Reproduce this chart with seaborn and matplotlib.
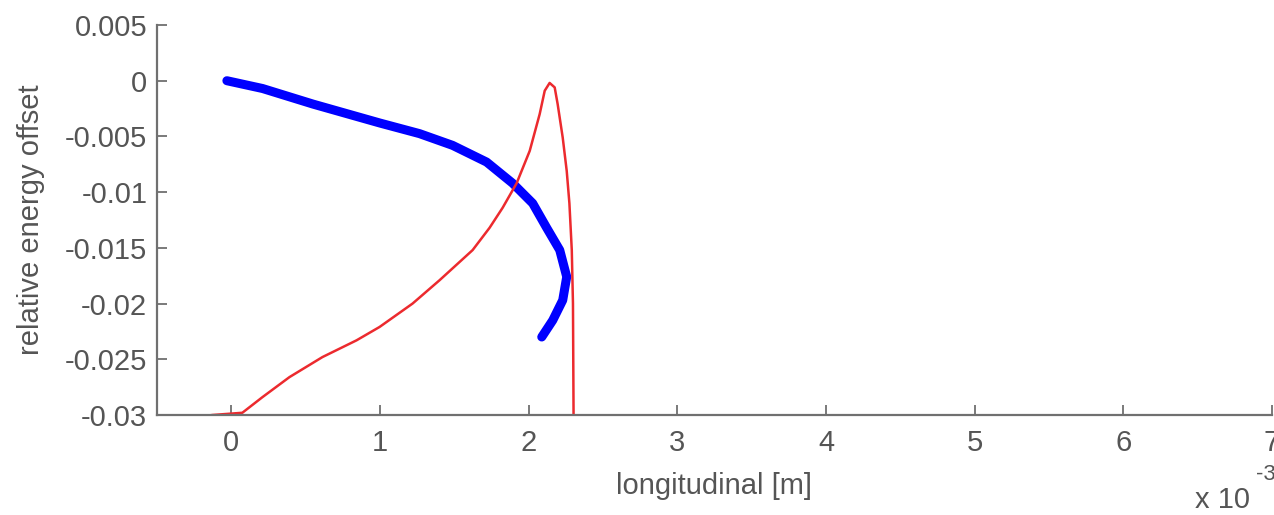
import matplotlib
matplotlib.use("Agg")
import matplotlib.pyplot as plt
import seaborn as sns
import pandas as pd

# Beam distribution in longitudinal phase space (longitudinal position in mm)
beam_long_mm = [-0.03, 0.21, 0.55, 1.00, 1.266, 1.488, 1.717, 1.892, 2.027, 2.121,
                2.209, 2.256, 2.229, 2.162, 2.088]
beam_energy = [0.0, -0.0007, -0.0021, -0.0038, -0.00475, -0.0058, -0.0073, -0.0092,
               -0.0110, -0.0132, -0.0152, -0.0176, -0.0197, -0.0215, -0.0230]

# Longitudinal current profile drawn on the same axes (position in mm)
profile_long_mm = [-0.18, -0.128, 0.074, 0.209, 0.391, 0.613, 0.842, 0.997, 1.219, 1.401,
                   1.623, 1.737, 1.825, 1.919, 2.007, 2.074, 2.108, 2.141, 2.175, 2.195,
                   2.229, 2.256, 2.274, 2.290, 2.298, 2.302]
profile_energy = [-0.0301, -0.0300, -0.0298, -0.0284, -0.0266, -0.0248, -0.0233, -0.0221,
                  -0.0200, -0.0179, -0.0152, -0.0132, -0.0114, -0.0092, -0.0063, -0.0030,
                  -0.0009, -0.0002, -0.0006, -0.0021, -0.0051, -0.0081, -0.0110, -0.0152,
                  -0.0200, -0.0300]

x_ticks_mm = [0, 1, 2, 3, 4, 5, 6, 7]
x_tick_labels = ["0", "1", "2", "3", "4", "5", "6", "7"]
y_ticks = [0.005, 0.0, -0.005, -0.01, -0.015, -0.02, -0.025, -0.03]
y_tick_labels = ["0.005", "0", "-0.005", "-0.01", "-0.015", "-0.02", "-0.025", "-0.03"]

beam = pd.DataFrame({"s": [v * 1e-3 for v in beam_long_mm], "delta": beam_energy})
profile = pd.DataFrame({"s": [v * 1e-3 for v in profile_long_mm], "delta": profile_energy})

sns.set_style("white")
plt.rcParams["font.family"] = ["Liberation Sans", "DejaVu Sans"]
plt.rcParams["axes.unicode_minus"] = False

text_color = "#555555"
axis_color = "#707070"

fig = plt.figure(figsize=(12.74, 5.15), dpi=100)
ax = fig.add_axes([157 / 1274, 1 - 415 / 515, (1272 - 157) / 1274, (415 - 25) / 515])

sns.lineplot(data=beam, x="s", y="delta", sort=False, estimator=None,
             color="#0000ff", linewidth=6.5, solid_capstyle="round",
             solid_joinstyle="round", ax=ax)
sns.lineplot(data=profile, x="s", y="delta", sort=False, estimator=None,
             color="#ec2a2e", linewidth=1.8, solid_joinstyle="round", ax=ax)

ax.set_xlim(-0.5e-3, 7e-3)
ax.set_ylim(-0.03, 0.005)
ax.set_xticks([t * 1e-3 for t in x_ticks_mm], x_tick_labels)
ax.set_yticks(y_ticks, y_tick_labels)

for side in ("top", "right"):
    ax.spines[side].set_visible(False)
for side in ("left", "bottom"):
    ax.spines[side].set_color(axis_color)
    ax.spines[side].set_linewidth(1.6)

ax.tick_params(axis="both", which="major", bottom=True, left=True, direction="in",
               length=7, width=1.3, color=axis_color, labelsize=21, labelcolor=text_color)
ax.tick_params(axis="x", pad=10)
ax.tick_params(axis="y", pad=7)

ax.set_xlabel("longitudinal [m]", fontsize=21, color=text_color, labelpad=11)
ax.set_ylabel("relative energy offset", fontsize=21, color=text_color, labelpad=14)

fig.text(1195 / 1274, 1 - 508 / 515, "x 10", fontsize=21, color=text_color,
         ha="left", va="baseline")
fig.text(1256 / 1274, 1 - 480 / 515, "-3", fontsize=16, color=text_color,
         ha="left", va="baseline")

fig.savefig("out.png", dpi=100, facecolor="white")
